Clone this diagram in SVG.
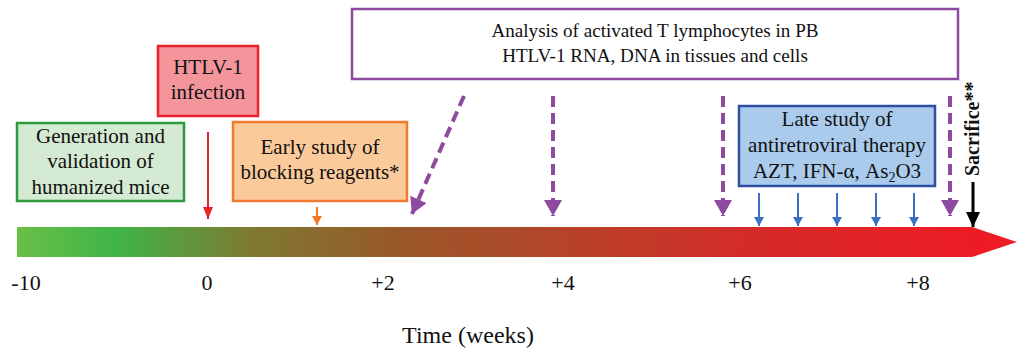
<svg xmlns="http://www.w3.org/2000/svg" width="1024" height="358" viewBox="0 0 1024 358">
<style>
text{font-family:"Liberation Serif","Times New Roman",serif;fill:#111;}
.bt{font-size:21px;text-anchor:middle;}
.at{font-size:19.1px;text-anchor:middle;}
.tk{font-size:22px;text-anchor:middle;}
.pd{stroke:#8e4a9e;stroke-width:4;stroke-dasharray:11 6;fill:none;}
</style>
<defs>
<linearGradient id="bar" x1="17" y1="0" x2="1018" y2="0" gradientUnits="userSpaceOnUse">
<stop offset="0" stop-color="#6abf45"/>
<stop offset="0.098" stop-color="#3fb54a"/>
<stop offset="0.233" stop-color="#7e7a31"/>
<stop offset="0.383" stop-color="#98582a"/>
<stop offset="0.582" stop-color="#bc3f27"/>
<stop offset="0.732" stop-color="#d42b2a"/>
<stop offset="0.952" stop-color="#ed1c24"/>
<stop offset="1" stop-color="#ee1c25"/>
</linearGradient>
<marker id="mp" markerUnits="userSpaceOnUse" markerWidth="18" markerHeight="18" refX="16" refY="9" orient="auto"><path d="M0,0 L16,9 L0,18 z" fill="#8e4a9e"/></marker>
<marker id="mr" markerUnits="userSpaceOnUse" markerWidth="12" markerHeight="12" refX="12" refY="5" orient="auto"><path d="M0,0 L12,5 L0,10 z" fill="#e8232b"/></marker>
<marker id="mo" markerUnits="userSpaceOnUse" markerWidth="10" markerHeight="10" refX="9" refY="5" orient="auto"><path d="M0,0 L9,5 L0,10 z" fill="#f07b22"/></marker>
<marker id="mb" markerUnits="userSpaceOnUse" markerWidth="10" markerHeight="10" refX="9" refY="5" orient="auto"><path d="M0,0 L9,5 L0,10 z" fill="#3a6fc4"/></marker>
<marker id="mk" markerUnits="userSpaceOnUse" markerWidth="16" markerHeight="16" refX="15" refY="7" orient="auto"><path d="M0,0 L15,7 L0,14 z" fill="#000"/></marker>
</defs>

<g id="timeline">
<path d="M17,227 L972,227 L1017,242 L972,257 L17,257 z" fill="url(#bar)"/>
</g>

<g id="ticks">
<text class="tk" x="26" y="290">-10</text>
<text class="tk" x="207" y="290">0</text>
<text class="tk" x="383" y="290">+2</text>
<text class="tk" x="563" y="290">+4</text>
<text class="tk" x="740" y="290">+6</text>
<text class="tk" x="918" y="290">+8</text>
<text x="468" y="343" font-size="24" text-anchor="middle">Time (weeks)</text>
</g>

<g id="generation">
<rect x="17" y="123" width="167" height="78" fill="#d5ead2" stroke="#2e9a3e" stroke-width="2.5"/>
<text class="bt" x="100.5" y="143">Generation and</text>
<text class="bt" x="100.5" y="168">validation of</text>
<text class="bt" x="100.5" y="194">humanized mice</text>
</g>

<g id="infection">
<rect x="158" y="46" width="100" height="70" fill="#f4959c" stroke="#e8232b" stroke-width="2.5"/>
<text class="bt" x="208" y="74">HTLV-1</text>
<text class="bt" x="208" y="99">infection</text>
</g>

<g id="early">
<rect x="233" y="122" width="174" height="79" fill="#fbca9b" stroke="#f07b30" stroke-width="2.5"/>
<text class="bt" x="320" y="154">Early study of</text>
<text class="bt" x="320" y="179">blocking reagents*</text>
</g>

<g id="analysis">
<rect x="352" y="9" width="606" height="70" fill="#fff" stroke="#8e4a9e" stroke-width="2.5"/>
<text class="at" x="655" y="37">Analysis of activated T lymphocytes in PB</text>
<text class="at" x="655" y="62">HTLV-1 RNA, DNA in tissues and cells</text>
</g>

<g id="late">
<rect x="739" y="106" width="196" height="80" fill="#abcbec" stroke="#2e4ea0" stroke-width="2.5"/>
<text class="bt" x="837" y="126">Late study of</text>
<text class="bt" x="837" y="152">antiretroviral therapy</text>
<text class="bt" x="837" y="178">AZT, IFN-α, As<tspan font-size="14" dy="4">2</tspan><tspan dy="-4">O3</tspan></text>
</g>

<g id="sacrifice">
<text transform="translate(979,176) rotate(-90)" font-size="20" font-weight="bold">Sacrifice**</text>
</g>

<g id="connectors">
<line x1="208" y1="132" x2="208" y2="219" stroke="#e8232b" stroke-width="2" marker-end="url(#mr)"/>
<line x1="317" y1="207" x2="317" y2="225" stroke="#f07b22" stroke-width="2" marker-end="url(#mo)"/>
<line class="pd" x1="464" y1="96" x2="412" y2="214" marker-end="url(#mp)"/>
<line class="pd" x1="553" y1="96" x2="553" y2="216" marker-end="url(#mp)"/>
<line class="pd" x1="723" y1="96" x2="723" y2="216" marker-end="url(#mp)"/>
<line class="pd" x1="950" y1="96" x2="950" y2="216" marker-end="url(#mp)"/>
<line x1="759" y1="193" x2="759" y2="226" stroke="#3a6fc4" stroke-width="2" marker-end="url(#mb)"/>
<line x1="798" y1="193" x2="798" y2="226" stroke="#3a6fc4" stroke-width="2" marker-end="url(#mb)"/>
<line x1="837" y1="193" x2="837" y2="226" stroke="#3a6fc4" stroke-width="2" marker-end="url(#mb)"/>
<line x1="876" y1="193" x2="876" y2="226" stroke="#3a6fc4" stroke-width="2" marker-end="url(#mb)"/>
<line x1="914" y1="193" x2="914" y2="226" stroke="#3a6fc4" stroke-width="2" marker-end="url(#mb)"/>
<line x1="973" y1="182" x2="973" y2="227" stroke="#000" stroke-width="3" marker-end="url(#mk)"/>
</g>
</svg>
